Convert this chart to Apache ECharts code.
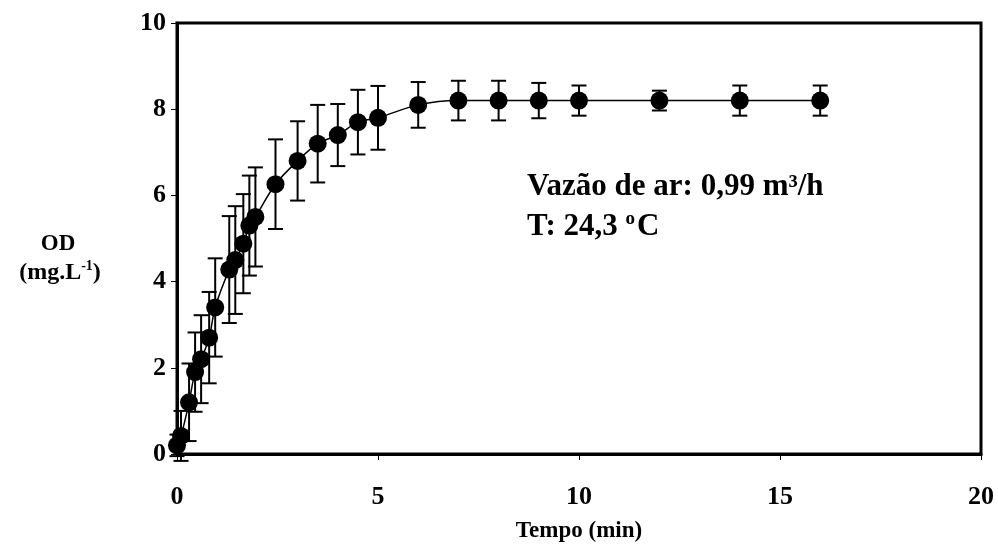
<!DOCTYPE html>
<html>
<head>
<meta charset="utf-8">
<script src="https://cdn.jsdelivr.net/npm/echarts@6/dist/echarts.min.js"></script>
<style>
html,body{margin:0;padding:0;background:#fff;}
#c{width:998px;height:548px;}
</style>
</head>
<body>
<div id="c"></div>
<script>
// Time (min)
const tData = [0, 0.1, 0.3, 0.45, 0.6, 0.8, 0.95, 1.3, 1.45, 1.65, 1.8, 1.95, 2.45, 3, 3.5, 4, 4.5, 5, 6, 7, 8, 9, 10, 12, 14, 16];
// OD (mg/L)
const odData = [0.2, 0.42, 1.2, 1.9, 2.2, 2.7, 3.4, 4.28, 4.5, 4.88, 5.3, 5.5, 6.26, 6.8, 7.2, 7.4, 7.7, 7.8, 8.1, 8.2, 8.2, 8.2, 8.2, 8.2, 8.2, 8.2];
// Standard deviation (error bars)
const errData = [0.25, 0.58, 0.9, 0.92, 1.02, 1.06, 1.14, 1.24, 1.25, 1.15, 1.16, 1.15, 1.04, 0.92, 0.9, 0.72, 0.75, 0.74, 0.53, 0.46, 0.46, 0.41, 0.35, 0.23, 0.35, 0.35];
const xTicks = [0, 5, 10, 15, 20];
const yTicks = [0, 2, 4, 6, 8, 10];

const serif = '"Liberation Serif","Times New Roman",serif';
const pts = tData.map((t, i) => [t, odData[i]]);
const errPts = tData.map((t, i) => [t, odData[i] - errData[i], odData[i] + errData[i]]);

const chart = echarts.init(document.getElementById('c'));
chart.setOption({
  animation: false,
  grid: {left: 177, right: 17, top: 23, bottom: 93, show: true, borderColor: '#000', borderWidth: 3, backgroundColor: 'transparent'},
  xAxis: {
    type: 'value', min: 0, max: 20, interval: 5,
    axisLine: {show: true, onZero: false, lineStyle: {color: '#000', width: 3}},
    axisTick: {show: true, inside: false, length: 6, lineStyle: {color: '#000', width: 1}},
    splitLine: {show: false},
    axisLabel: {color: '#000', fontFamily: serif, fontWeight: 'bold', fontSize: 26, margin: 30,
      formatter: v => xTicks.includes(v) ? String(v) : ''},
    name: 'Tempo (min)', nameLocation: 'middle', nameGap: 66,
    nameTextStyle: {color: '#000', fontFamily: serif, fontWeight: 'bold', fontSize: 23}
  },
  yAxis: {
    type: 'value', min: 0, max: 10, interval: 2,
    axisLine: {show: true, lineStyle: {color: '#000', width: 3}},
    axisTick: {show: true, inside: false, length: 6, lineStyle: {color: '#000', width: 1}},
    splitLine: {show: false},
    axisLabel: {color: '#000', fontFamily: serif, fontWeight: 'bold', fontSize: 26, margin: 11,
      formatter: v => yTicks.includes(v) ? String(v) : ''}
  },
  series: [
    {
      type: 'custom',
      clip: false,
      z: 2,
      data: errPts,
      renderItem: function (params, api) {
        const x = api.value(0);
        const lo = api.coord([x, api.value(1)]);
        const hi = api.coord([x, api.value(2)]);
        const hw = 7.5;
        const st = {stroke: '#000', lineWidth: 2};
        return {
          type: 'group',
          children: [
            {type: 'line', shape: {x1: lo[0], y1: lo[1], x2: hi[0], y2: hi[1]}, style: st},
            {type: 'line', shape: {x1: lo[0] - hw, y1: lo[1], x2: lo[0] + hw, y2: lo[1]}, style: st},
            {type: 'line', shape: {x1: hi[0] - hw, y1: hi[1], x2: hi[0] + hw, y2: hi[1]}, style: st}
          ]
        };
      }
    },
    {
      type: 'line',
      data: pts,
      smooth: 0.35,
      clip: false,
      z: 3,
      symbol: 'circle',
      symbolSize: 18,
      itemStyle: {color: '#000'},
      lineStyle: {color: '#000', width: 1.5}
    }
  ],
  graphic: [
    {
      type: 'text', x: 527, y: 187, z: 10,
      style: {text: 'Vazão de ar: 0,99 m³/h', fill: '#000', font: 'bold 31px ' + serif, align: 'left', verticalAlign: 'middle'}
    },
    {
      type: 'text', x: 527, y: 226, z: 10,
      style: {
        text: '{n|T: 24,3 }{s|o}{n|C}', align: 'left', verticalAlign: 'middle',
        rich: {
          n: {fontFamily: serif, fontWeight: 'bold', fontSize: 31, fill: '#000', color: '#000', verticalAlign: 'bottom'},
          s: {fontFamily: serif, fontWeight: 'bold', fontSize: 19, fill: '#000', color: '#000', verticalAlign: 'top', padding: [0, 2, 14, 0]}
        }
      }
    },
    {
      type: 'text', x: 58, y: 244, z: 10,
      style: {text: 'OD', fill: '#000', font: 'bold 23px ' + serif, align: 'center', verticalAlign: 'middle'}
    },
    {
      type: 'text', x: 60, y: 272, z: 10,
      style: {
        text: '{n|(mg.L}{s|-1}{n|)}', align: 'center', verticalAlign: 'middle',
        rich: {
          n: {fontFamily: serif, fontWeight: 'bold', fontSize: 24, fill: '#000', color: '#000', verticalAlign: 'bottom'},
          s: {fontFamily: serif, fontWeight: 'bold', fontSize: 14, fill: '#000', color: '#000', verticalAlign: 'top', padding: [0, 0, 11, 0]}
        }
      }
    }
  ]
});
</script>
</body>
</html>
